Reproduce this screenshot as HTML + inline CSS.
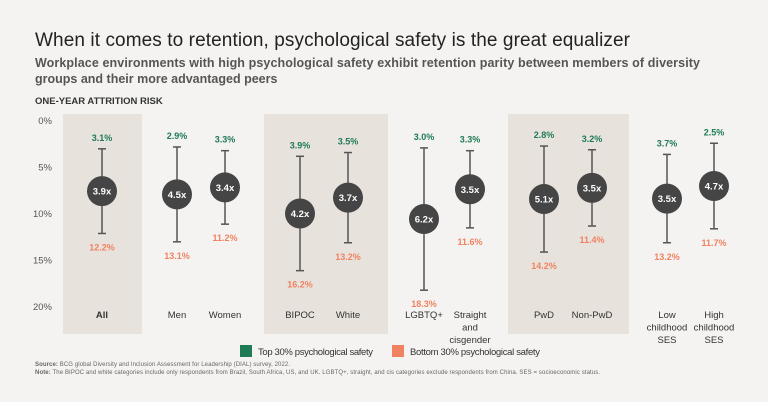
<!DOCTYPE html>
<html><head><meta charset="utf-8"><style>
body{margin:0;background:#f4f3f1;font-family:"Liberation Sans",sans-serif;}
svg{display:block}
</style></head><body>
<svg width="768" height="402" viewBox="0 0 768 402">
<rect width="768" height="402" fill="#f4f3f1"/>
<text x="35" y="46" font-size="19" fill="#222" textLength="595">When it comes to retention, psychological safety is the great equalizer</text>
<text x="35" y="67" font-size="12.5" font-weight="bold" fill="#555" textLength="665">Workplace environments with high psychological safety exhibit retention parity between members of diversity</text>
<text x="35" y="83" font-size="12.5" font-weight="bold" fill="#555">groups and their more advantaged peers</text>
<text x="35" y="104" font-size="9.5" font-weight="bold" fill="#333">ONE-YEAR ATTRITION RISK</text>
<g id="panels"></g><g id="axis"></g><g id="marks"></g>
<rect x="240" y="345" width="12" height="12" fill="#1e7b55"/>
<text x="258" y="355" font-size="9.5" fill="#333" textLength="115">Top 30% psychological safety</text>
<rect x="392" y="345" width="12" height="12" fill="#f08262"/>
<text x="410" y="355" font-size="9.5" fill="#333" textLength="130">Bottom 30% psychological safety</text>
<text x="35" y="366" font-size="6" fill="#666" textLength="255"><tspan font-weight="bold">Source:</tspan> BCG global Diversity and Inclusion Assessment for Leadership (DIAL) survey, 2022.</text>
<text x="35" y="374" font-size="6" fill="#666" textLength="565"><tspan font-weight="bold">Note:</tspan> The BIPOC and white categories include only respondents from Brazil, South Africa, US, and UK. LGBTQ+, straight, and cis categories exclude respondents from China. SES = socioeconomic status.</text>
</svg>
<script>
const categories=[["All"],["Men"],["Women"],["BIPOC"],["White"],["LGBTQ+"],["Straight","and","cisgender"],["PwD"],["Non-PwD"],["Low","childhood","SES"],["High","childhood","SES"]];
const topValues=[3.1,2.9,3.3,3.9,3.5,3.0,3.3,2.8,3.2,3.7,2.5];
const bottomValues=[12.2,13.1,11.2,16.2,13.2,18.3,11.6,14.2,11.4,13.2,11.7];
const ratios=["3.9x","4.5x","3.4x","4.2x","3.7x","6.2x","3.5x","5.1x","3.5x","3.5x","4.7x"];
const yTicks=[0,5,10,15,20];
const xPos=[102,177,225,300,348,424,470,544,592,667,714];
const panels=[[63,142],[264,388],[508,629]];
const NS="http://www.w3.org/2000/svg";
const y=v=>120+v*9.3;
function mk(t,a,p){const e=document.createElementNS(NS,t);for(const k in a)e.setAttribute(k,a[k]);p.appendChild(e);return e;}
const P=document.getElementById('panels'),A=document.getElementById('axis'),M=document.getElementById('marks');
panels.forEach(p=>{const r=mk('rect',{x:p[0],y:114,width:p[1]-p[0],height:220,fill:'#e8e2dc'},P);

});
yTicks.forEach(t=>{const e=mk('text',{x:52,y:y(t)+4,'font-size':9.5,fill:'#555','text-anchor':'end'},A);e.textContent=t+'%';

});
categories.forEach((c,i)=>{
const x=xPos[i],t=topValues[i],b=bottomValues[i],m=y((t+b)/2);
const g=mk('g',{},M);


mk('line',{x1:x,x2:x,y1:y(t),y2:y(b),stroke:'#555','stroke-width':1.5},g);
mk('line',{x1:x-4,x2:x+4,y1:y(t),y2:y(t),stroke:'#555','stroke-width':1.5},g);
mk('line',{x1:x-4,x2:x+4,y1:y(b),y2:y(b),stroke:'#555','stroke-width':1.5},g);
mk('circle',{cx:x,cy:m,r:15,fill:'#454545'},g);
const r=mk('text',{x:x,y:m+3.5,'font-size':9.5,'font-weight':'bold',fill:'#fff','text-anchor':'middle'},g);r.textContent=ratios[i];
const tt=mk('text',{x:x,y:y(t)-8,'font-size':9,'font-weight':'bold',fill:'#1e7b55','text-anchor':'middle'},g);tt.textContent=t.toFixed(1)+'%';
const bt=mk('text',{x:x,y:y(b)+17,'font-size':9,'font-weight':'bold',fill:'#f08262','text-anchor':'middle'},g);bt.textContent=b.toFixed(1)+'%';
c.forEach((w,j)=>{const l=mk('text',{x:x,y:318+j*12.5,'font-size':9.5,fill:'#333','text-anchor':'middle','font-weight':i==0?'bold':'normal'},g);l.textContent=w;

});
});
</script>
</body></html>
